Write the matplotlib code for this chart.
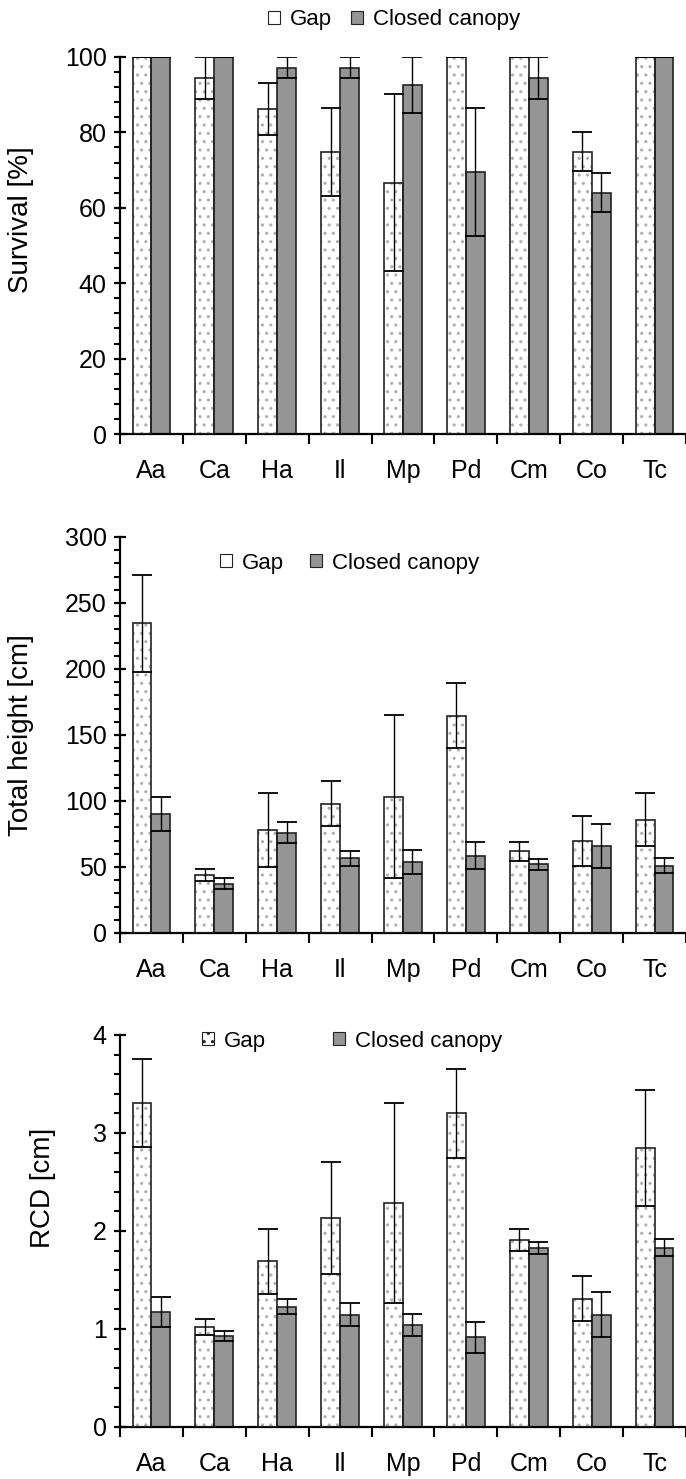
import numpy as np
import matplotlib
matplotlib.use("Agg")
import matplotlib.pyplot as plt
from matplotlib.patches import Patch

plt.rcParams["font.family"] = ["Liberation Sans", "DejaVu Sans"]
plt.rcParams["hatch.linewidth"] = 1.1

species = ["Aa", "Ca", "Ha", "Il", "Mp", "Pd", "Cm", "Co", "Tc"]

# Survival [%]
surv_gap = [100, 94.4, 86.2, 74.9, 66.7, 100, 100, 74.9, 100]
surv_gap_err = [0, 5.6, 6.9, 11.7, 23.4, 0, 0, 5.1, 0]
surv_closed = [100, 100, 97.2, 97.2, 92.6, 69.6, 94.4, 64.0, 100]
surv_closed_err = [0, 0, 2.8, 2.8, 7.4, 17.0, 5.6, 5.2, 0]

# Total height [cm]
height_gap = [234.5, 44, 77.7, 98, 103.3, 164.6, 61.9, 70, 85.8]
height_gap_err = [36.5, 4.5, 28, 17, 62, 24.5, 7, 19, 20]
height_closed = [90.2, 37.5, 76, 56.5, 54, 58.6, 52, 65.9, 51]
height_closed_err = [13, 4, 8, 6, 9, 10, 4, 17, 5.5]

# RCD [cm]
rcd_gap = [3.31, 1.023, 1.69, 2.13, 2.29, 3.20, 1.91, 1.31, 2.85]
rcd_gap_err = [0.45, 0.08, 0.33, 0.57, 1.02, 0.45, 0.11, 0.23, 0.59]
rcd_closed = [1.173, 0.929, 1.228, 1.146, 1.038, 0.915, 1.83, 1.146, 1.83]
rcd_closed_err = [0.15, 0.055, 0.08, 0.12, 0.11, 0.16, 0.06, 0.23, 0.09]

W, H = 686, 1479
fig = plt.figure(figsize=(W / 100, H / 100), dpi=100)

GRAY = "#959595"
EDGE = "#222222"


def draw_panel(rect, gap, gap_err, closed, closed_err, ymax, major, ylabel, label_xy):
    ax = fig.add_axes(rect)
    x = np.arange(len(species))
    w = 0.3
    # hatched white bars (pattern in light gray), then outlines
    ax.bar(x - w / 2, gap, w, color="white", edgecolor="#b0b0b0", hatch="..", linewidth=0, zorder=2)
    ax.bar(x - w / 2, gap, w, fill=False, edgecolor=EDGE, linewidth=1.2, zorder=3)
    ax.bar(x + w / 2, closed, w, color=GRAY, edgecolor=EDGE, linewidth=1.2, zorder=2)
    ax.errorbar(x - w / 2, gap, yerr=gap_err, fmt="none", ecolor="black",
                elinewidth=1, capsize=7, capthick=1.3, zorder=4)
    ax.errorbar(x + w / 2, closed, yerr=closed_err, fmt="none", ecolor="black",
                elinewidth=1, capsize=7, capthick=1.3, zorder=4)

    ax.set_xlim(-0.5, len(species) - 0.5)
    ax.set_ylim(0, ymax)
    ax.spines["top"].set_visible(False)
    ax.spines["right"].set_visible(False)
    ax.spines["left"].set_linewidth(1.6)
    ax.spines["bottom"].set_linewidth(1.6)

    ax.set_xticks(x)
    ax.set_xticklabels(species, fontsize=18)
    ax.set_xticks(np.arange(-0.5, len(species), 1), minor=True)
    ax.tick_params(axis="x", which="major", length=0, pad=18)
    ax.tick_params(axis="x", which="minor", length=7, width=1.5, direction="out")

    ax.set_yticks(np.arange(0, ymax + major / 2, major))
    ax.set_yticks(np.arange(0, ymax + major / 10, major / 5), minor=True)
    ax.tick_params(axis="y", which="major", length=9, width=1.6, direction="inout",
                   labelsize=18, pad=5)
    ax.tick_params(axis="y", which="minor", length=4.5, width=1.5, direction="out")

    ax.set_ylabel(ylabel, fontsize=20)
    ax.yaxis.set_label_coords(*label_xy)
    return ax


def px_rect(top, bottom, left=120, right=686):
    return [left / W, 1 - bottom / H, (right - left) / W, (bottom - top) / H]


ax1 = draw_panel(px_rect(57, 434), surv_gap, surv_gap_err, surv_closed, surv_closed_err,
                 100, 20, "Survival [%]", (-0.152, 0.568))
ax2 = draw_panel(px_rect(537, 933), height_gap, height_gap_err, height_closed, height_closed_err,
                 300, 50, "Total height [cm]", (-0.152, 0.5))
ax3 = draw_panel(px_rect(1035, 1427), rcd_gap, rcd_gap_err, rcd_closed, rcd_closed_err,
                 4, 1, "RCD [cm]", (-0.113, 0.61))
ax2.yaxis.set_major_formatter(matplotlib.ticker.FormatStrFormatter("%d"))
ax3.yaxis.set_major_formatter(matplotlib.ticker.FormatStrFormatter("%d"))


def add_legend(left_px, y_px, colspacing, hatched):
    gap_patch = Patch(facecolor="white", edgecolor=EDGE, linewidth=0.8,
                      hatch=".." if hatched else None, label="Gap")
    closed_patch = Patch(facecolor=GRAY, edgecolor=EDGE, linewidth=0.8, label="Closed canopy")
    fig.legend(handles=[gap_patch, closed_patch], loc="center left",
               bbox_to_anchor=(left_px / W, 1 - y_px / H), ncol=2, frameon=False,
               fontsize=16, handlelength=0.55, handleheight=0.55, handletextpad=0.45,
               columnspacing=colspacing, borderpad=0, borderaxespad=0)


add_legend(268, 20, 0.85, False)
add_legend(220, 563, 1.15, False)
add_legend(202, 1041, 3.0, True)

fig.savefig("out.png", dpi=100)
